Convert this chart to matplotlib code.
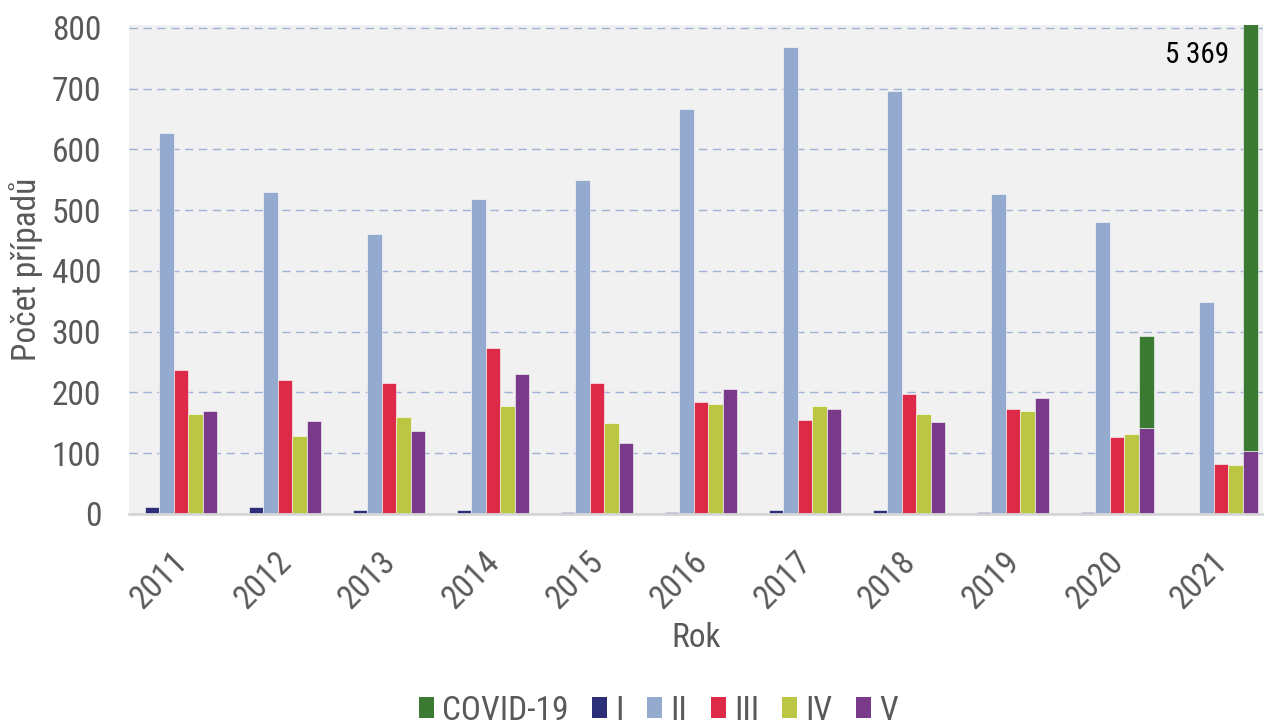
import numpy as np
import matplotlib.pyplot as plt
import matplotlib.transforms as mtransforms
from matplotlib.patches import Patch

plt.rcParams['font.family'] = ['Roboto Condensed', 'DejaVu Sans']
plt.rcParams['font.stretch'] = 'condensed'

# data
roky = ['2011', '2012', '2013', '2014', '2015', '2016', '2017', '2018', '2019', '2020', '2021']
skupina_I = [11, 11, 7, 7, 4, 4, 7, 7, 4, 4, 1]
skupina_II = [627, 529, 460, 519, 549, 666, 769, 696, 526, 480, 348]
skupina_III = [237, 221, 215, 273, 215, 185, 155, 198, 172, 126, 83]
skupina_IV = [165, 129, 159, 178, 149, 181, 178, 165, 169, 132, 80]
skupina_V = [169, 153, 136, 231, 116, 205, 172, 152, 191, 142, 103]
covid = [0, 0, 0, 0, 0, 0, 0, 0, 0, 151, 5369]

barvy = {
    'COVID-19': '#3B7A32',
    'I': '#2C2F78',
    'II': '#94AACE',
    'III': '#DC2A48',
    'IV': '#BCC645',
    'V': '#7A3A8A',
}
sedy_text = '#595959'

fig = plt.figure(figsize=(12.64, 7.28), dpi=100)
ax = fig.add_axes([0.102, 0.294, 0.897, 0.672])
ax.set_facecolor('#F1F1F1')

x = np.arange(len(roky))
w = 0.14
serie = [('I', skupina_I), ('II', skupina_II), ('III', skupina_III),
         ('IV', skupina_IV), ('V', skupina_V)]
for k, (nazev, hodnoty) in enumerate(serie):
    ax.bar(x + (k - 2) * w, hodnoty, width=w, color=barvy[nazev],
           edgecolor='white', linewidth=0.4, zorder=3)

# COVID-19 skladany na skupinu V
idx = [i for i, c in enumerate(covid) if c > 0]
ax.bar(x[idx] + 2 * w, [covid[i] for i in idx], width=w,
       bottom=[skupina_V[i] for i in idx], color=barvy['COVID-19'],
       edgecolor='white', linewidth=0.4, zorder=3)

ax.text(x[-1] + 0.08, 755, '5 369', ha='right', va='center',
        fontsize=21, color='black', zorder=4)

ax.set_xlim(-0.5, 10.4)
ax.set_ylim(0, 805)
ax.set_yticks(range(0, 801, 100))
ax.set_xticks(x)
ax.set_xticklabels(roky, rotation=45, ha='right')
ax.tick_params(axis='both', length=0, labelsize=24, labelcolor=sedy_text)
ax.tick_params(axis='x', pad=23)
ax.tick_params(axis='y', pad=20)
posun = mtransforms.ScaledTranslation(13 / 100, 0, fig.dpi_scale_trans)
for lbl in ax.get_xticklabels():
    lbl.set_transform(lbl.get_transform() + posun)

ax.grid(axis='y', color='#9FB2D6', linestyle=(0, (6, 4)), linewidth=1, zorder=0)
for s in ['top', 'right', 'left']:
    ax.spines[s].set_visible(False)
ax.spines['bottom'].set_color('#D6D6D6')
ax.spines['bottom'].set_linewidth(2)
ax.spines['bottom'].set_zorder(5)

ax.set_ylabel('Počet případů', fontsize=24, color=sedy_text, labelpad=6)
ax.set_xlabel('Rok', fontsize=24, color=sedy_text, labelpad=5)

poradi = ['COVID-19', 'I', 'II', 'III', 'IV', 'V']
handles = [Patch(facecolor=barvy[n], label=n) for n in poradi]
fig.legend(handles=handles, loc='center', bbox_to_anchor=(0.521, 0.024),
           ncol=6, frameon=False, fontsize=24, handlelength=0.45,
           handleheight=0.6, handletextpad=0.25, columnspacing=0.7,
           labelcolor=sedy_text, borderpad=0.1)

fig.savefig('out.png', dpi=100)
